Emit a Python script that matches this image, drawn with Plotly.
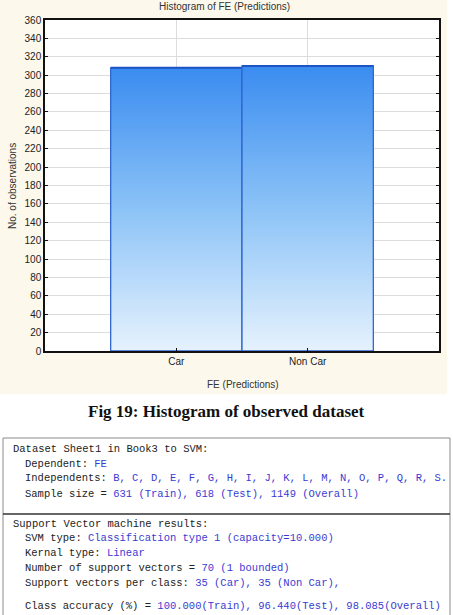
import plotly.graph_objects as go

# ---- data ----
categories = ["Car", "Non Car"]
counts = [308, 310]
y_tick_values = list(range(0, 361, 20))
chart_title = "Histogram of FE (Predictions)"
x_title = "FE (Predictions)"
y_title = "No. of observations"
caption = "Fig 19: Histogram of observed dataset"

BLACK = "#222222"
BLUE = "#3a3ad2"
report_block1 = [
    (0, [("Dataset Sheet1 in Book3 to SVM:", BLACK)]),
    (1, [("Dependent: ", BLACK), ("FE", BLUE)]),
    (1, [("Independents: ", BLACK), ("B, C, D, E, F, G, H, I, J, K, L, M, N, O, P, Q, R, S.", BLUE)]),
    (1, [("Sample size = ", BLACK), ("631 (Train), 618 (Test), 1149 (Overall)", BLUE)]),
]
report_block2 = [
    (0, [("Support Vector machine results:", BLACK)]),
    (1, [("SVM type: ", BLACK), ("Classification type 1 (capacity=10.000)", BLUE)]),
    (1, [("Kernal type: ", BLACK), ("Linear", BLUE)]),
    (1, [("Number of support vectors = ", BLACK), ("70 (1 bounded)", BLUE)]),
    (1, [("Support vectors per class: ", BLACK), ("35 (Car), 35 (Non Car),", BLUE)]),
    (1, [("Class accuracy (%) = ", BLACK), ("100.000(Train), 96.440(Test), 98.085(Overall)", BLUE)]),
]

# ---- layout geometry (pixels) ----
W, H = 453, 615
L, R, T, B = 45, 439, 20, 351


def px(x):
    return (x - L) / (R - L)


def py(y):
    return (B - y) / (B - T)


fig = go.Figure()

for i, (cat, c) in enumerate(zip(categories, counts)):
    fig.add_trace(go.Scatter(
        x=[i - 0.5, i - 0.5, i + 0.5, i + 0.5, i - 0.5],
        y=[0, c, c, 0, 0],
        mode="lines",
        fill="toself",
        fillgradient=dict(type="vertical", start=0, stop=c,
                          colorscale=[[0, "#e6f2fd"], [0.5, "#8cc3f7"], [1, "#3a8cf0"]]),
        line=dict(color="#2e66d2", width=1.3),
        hoverinfo="skip",
        showlegend=False,
        name=cat,
    ))
    # darker top edge
    fig.add_trace(go.Scatter(
        x=[i - 0.5, i + 0.5], y=[c, c], mode="lines",
        line=dict(color="#1d55c4", width=2),
        hoverinfo="skip", showlegend=False,
    ))

tick_font = dict(family="Liberation Sans", size=10, color="#222222")

fig.update_xaxes(
    range=[-1, 2], tickmode="array", tickvals=list(range(len(categories))), ticktext=categories,
    showgrid=True, gridcolor="#dcdcdc", gridwidth=1, zeroline=False,
    showline=True, linecolor="#111111", linewidth=1.5, mirror=True,
    ticks="inside", ticklen=3, tickcolor="#111111", tickfont=tick_font,
    fixedrange=True,
)
fig.update_yaxes(
    range=[0, 360], tickmode="array", tickvals=y_tick_values,
    showgrid=True, gridcolor="#dcdcdc", gridwidth=1, zeroline=False,
    showline=True, linecolor="#111111", linewidth=1.5, mirror="ticks",
    ticks="inside", ticklen=3, tickcolor="#111111", tickfont=tick_font,
    fixedrange=True,
)

shapes = [
    # cream chart background
    dict(type="rect", xref="paper", yref="paper", x0=px(0), x1=px(447), y0=py(0), y1=py(394),
         fillcolor="#fdf8ec", line=dict(width=0), layer="below"),
    # white plot area
    dict(type="rect", xref="paper", yref="paper", x0=0, x1=1, y0=0, y1=1,
         fillcolor="#ffffff", line=dict(width=0), layer="below"),
    # report box
    dict(type="rect", xref="paper", yref="paper", x0=px(3), x1=px(450), y0=py(438), y1=py(640),
         fillcolor="rgba(0,0,0,0)", line=dict(color="#8a8a8a", width=1)),
    dict(type="line", xref="paper", yref="paper", x0=px(3), x1=px(450), y0=py(514), y1=py(514),
         line=dict(color="#333333", width=1.3)),
]

annotations = [
    dict(text=chart_title, x=px(224), y=py(7), xref="paper", yref="paper", showarrow=False,
         xanchor="center", yanchor="middle", font=dict(family="Liberation Sans", size=10, color="#333333")),
    dict(text=x_title, x=px(243), y=py(384), xref="paper", yref="paper", showarrow=False,
         xanchor="center", yanchor="middle", font=dict(family="Liberation Sans", size=10, color="#333333")),
    dict(text=y_title, x=px(12), y=py(186), xref="paper", yref="paper", showarrow=False, textangle=-90,
         xanchor="center", yanchor="middle", font=dict(family="Liberation Sans", size=10, color="#333333")),
    dict(text="<b>" + caption + "</b>", x=px(226), y=py(412), xref="paper", yref="paper", showarrow=False,
         xanchor="center", yanchor="middle", font=dict(family="Liberation Serif", size=17, color="#111111")),
]

line_ys1 = [449, 464, 478, 494]
line_ys2 = [524, 538, 553, 568, 583, 606]
indent_x = [11, 23]
for ys, block in ((line_ys1, report_block1), (line_ys2, report_block2)):
    for yy, (ind, segs) in zip(ys, block):
        txt = "".join(f"<span style='color:{col}'>{s}</span>" for s, col in segs)
        annotations.append(dict(
            text=txt, x=px(indent_x[ind]), y=py(yy), xref="paper", yref="paper", showarrow=False,
            xanchor="left", yanchor="middle", align="left",
            font=dict(family="Liberation Mono", size=10.5, color=BLACK),
        ))

fig.update_layout(
    width=W, height=H,
    margin=dict(l=L, r=W - R, t=T, b=H - B, pad=0),
    paper_bgcolor="#ffffff", plot_bgcolor="rgba(0,0,0,0)",
    shapes=shapes, annotations=annotations,
    showlegend=False,
)

fig.write_html("out.html", config={"displayModeBar": False})
